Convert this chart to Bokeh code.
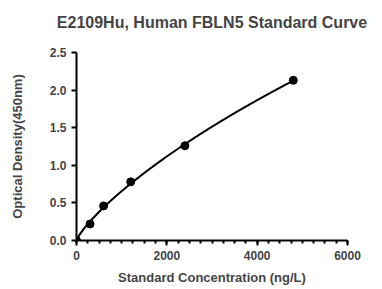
import numpy as np
from bokeh.plotting import figure
from bokeh.models import Range1d, FixedTicker, Title
from bokeh.embed import file_html
from bokeh.resources import INLINE

title = "E2109Hu, Human FBLN5 Standard Curve"
conc = [0, 300, 600, 1200, 2400, 4800]
od = [0.0, 0.22, 0.46, 0.78, 1.26, 2.13]
x_ticks = [0, 2000, 4000, 6000]
x_minor = list(range(0, 6001, 250))
y_ticks = [0.0, 0.5, 1.0, 1.5, 2.0, 2.5]

# four-parameter logistic fit (bottom fixed at 0) by grid search
x = np.array(conc, float)
y = np.array(od, float)
best = None
for b in np.linspace(0.4, 1.6, 121):
    for c in np.logspace(2.5, 6, 351):
        t = (x / c) ** b
        g = t / (1 + t)
        d = g.dot(y) / g.dot(g)
        sse = ((d * g - y) ** 2).sum()
        if best is None or sse < best[0]:
            best = (sse, b, c, d)
_, b, c, d = best
xf = np.linspace(0, max(conc), 300)
tf = (xf / c) ** b
yf = d * tf / (1 + tf)

FONT = "Liberation Sans"
p = figure(width=370, height=287, output_backend="svg", toolbar_location=None,
           x_range=Range1d(0, 6000), y_range=Range1d(0, 2.5),
           min_border_left=76, min_border_right=23, min_border_top=52, min_border_bottom=47)
p.outline_line_color = None
p.grid.visible = False

# spacer between the title and the plot frame, then the title itself
p.add_layout(Title(text=" ", text_font_size="10px", standoff=4), "above")
p.add_layout(Title(text=title, text_font=FONT, text_font_size="16px",
                   text_font_style="bold", align="center", standoff=10), "above")

p.line(xf, yf, line_color="black", line_width=2)
p.scatter(conc, od, size=8, color="black")

for ax in (p.xaxis[0], p.yaxis[0]):
    ax.axis_line_width = 2
    ax.axis_line_color = "black"
    ax.major_tick_line_width = 2
    ax.minor_tick_line_width = 2
    ax.major_tick_out = 5
    ax.major_tick_in = 0
    ax.minor_tick_out = 3
    ax.minor_tick_in = 0
    ax.major_label_text_font = FONT
    ax.major_label_text_font_style = "bold"
    ax.major_label_text_font_size = "12px"
    ax.axis_label_text_font = FONT
    ax.axis_label_text_font_style = "bold"
    ax.axis_label_text_font_size = "13px"

p.xaxis.ticker = FixedTicker(ticks=x_ticks, minor_ticks=x_minor)
p.yaxis.ticker = FixedTicker(ticks=y_ticks)
p.yaxis.minor_tick_line_color = None
p.yaxis.major_label_overrides = {t: f"{t:.1f}" for t in y_ticks}
p.xaxis.axis_label = "Standard Concentration (ng/L)"
p.yaxis.axis_label = "Optical Density(450nm)"
p.xaxis.axis_label_standoff = 7
p.yaxis.axis_label_standoff = 22

open("out.html", "w").write(file_html(p, INLINE))
